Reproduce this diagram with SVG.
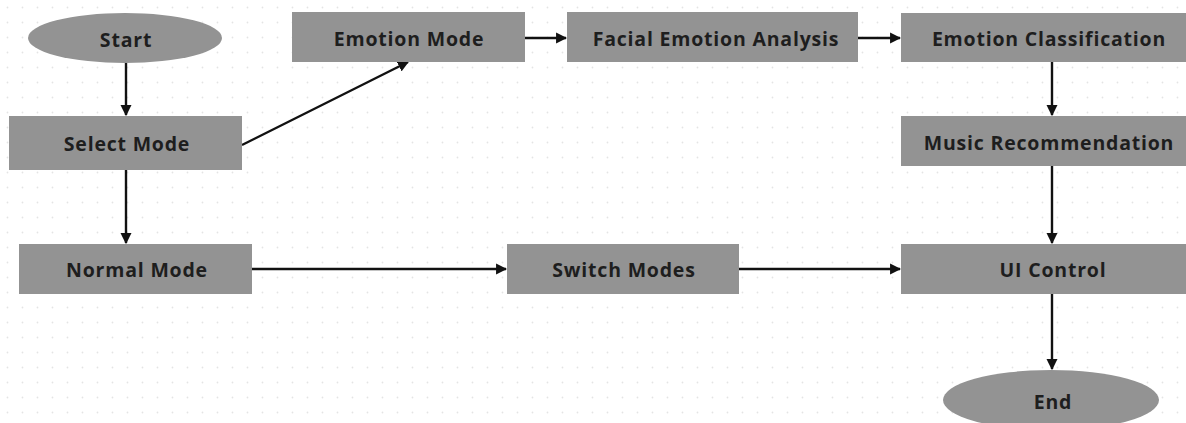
<svg xmlns="http://www.w3.org/2000/svg" width="1186" height="423" viewBox="0 0 1186 423">
  <defs>
    <pattern id="dots" width="15" height="15" patternUnits="userSpaceOnUse">
      <circle cx="7.5" cy="7.5" r="0.9" fill="#e4e4e4"/>
    </pattern>
    <marker id="arrow" viewBox="0 0 10 10" refX="9" refY="5" markerWidth="4.6" markerHeight="4.6" orient="auto" markerUnits="strokeWidth">
      <path d="M0,0 L10,5 L0,10 Z" fill="#111"/>
    </marker>
    <style>
      .box { fill: #939393; }
      .label { font-family: "Open Sans", "Liberation Sans", sans-serif; font-weight: 700; font-size: 19.5px; letter-spacing: 0.8px; fill: #1e1e1e; text-anchor: middle; dominant-baseline: central; }
      .edge { stroke: #111; stroke-width: 2.4; fill: none; marker-end: url(#arrow); }
    </style>
  </defs>

  <rect width="1186" height="423" fill="#ffffff"/>
  <rect width="1186" height="423" fill="url(#dots)"/>

  <!-- connectors -->
  <g id="connectors">
    <line class="edge" x1="126" y1="63" x2="126" y2="115"/>
    <line class="edge" x1="242" y1="145" x2="408" y2="62"/>
    <line class="edge" x1="525" y1="38" x2="566" y2="38"/>
    <line class="edge" x1="858" y1="38" x2="900" y2="38"/>
    <line class="edge" x1="1052" y1="62" x2="1052" y2="115"/>
    <line class="edge" x1="126" y1="170" x2="126" y2="243"/>
    <line class="edge" x1="252" y1="269" x2="506" y2="269"/>
    <line class="edge" x1="739" y1="269" x2="900" y2="269"/>
    <line class="edge" x1="1052" y1="166" x2="1052" y2="243"/>
    <line class="edge" x1="1052" y1="294" x2="1052" y2="369"/>
  </g>

  <!-- nodes -->
  <g id="start">
    <ellipse class="box" cx="125" cy="38" rx="97" ry="25"/>
    <text class="label" x="126" y="39">Start</text>
  </g>
  <g id="select-mode">
    <rect class="box" x="9" y="116" width="233" height="54"/>
    <text class="label" x="127" y="143">Select Mode</text>
  </g>
  <g id="emotion-mode">
    <rect class="box" x="292" y="12" width="233" height="50"/>
    <text class="label" x="409" y="38">Emotion Mode</text>
  </g>
  <g id="facial-emotion-analysis">
    <rect class="box" x="567" y="12" width="291" height="50"/>
    <text class="label" x="716" y="38">Facial Emotion Analysis</text>
  </g>
  <g id="emotion-classification">
    <rect class="box" x="901" y="13" width="285" height="49"/>
    <text class="label" x="1049" y="38">Emotion Classification</text>
  </g>
  <g id="music-recommendation">
    <rect class="box" x="901" y="116" width="285" height="50"/>
    <text class="label" x="1049" y="142">Music Recommendation</text>
  </g>
  <g id="normal-mode">
    <rect class="box" x="19" y="244" width="233" height="50"/>
    <text class="label" x="137" y="269">Normal Mode</text>
  </g>
  <g id="switch-modes">
    <rect class="box" x="507" y="244" width="232" height="50"/>
    <text class="label" x="624" y="269">Switch Modes</text>
  </g>
  <g id="ui-control">
    <rect class="box" x="901" y="244" width="285" height="50"/>
    <text class="label" x="1053" y="269">UI Control</text>
  </g>
  <g id="end">
    <ellipse class="box" cx="1051" cy="400" rx="108" ry="30"/>
    <text class="label" x="1053" y="401">End</text>
  </g>
</svg>
